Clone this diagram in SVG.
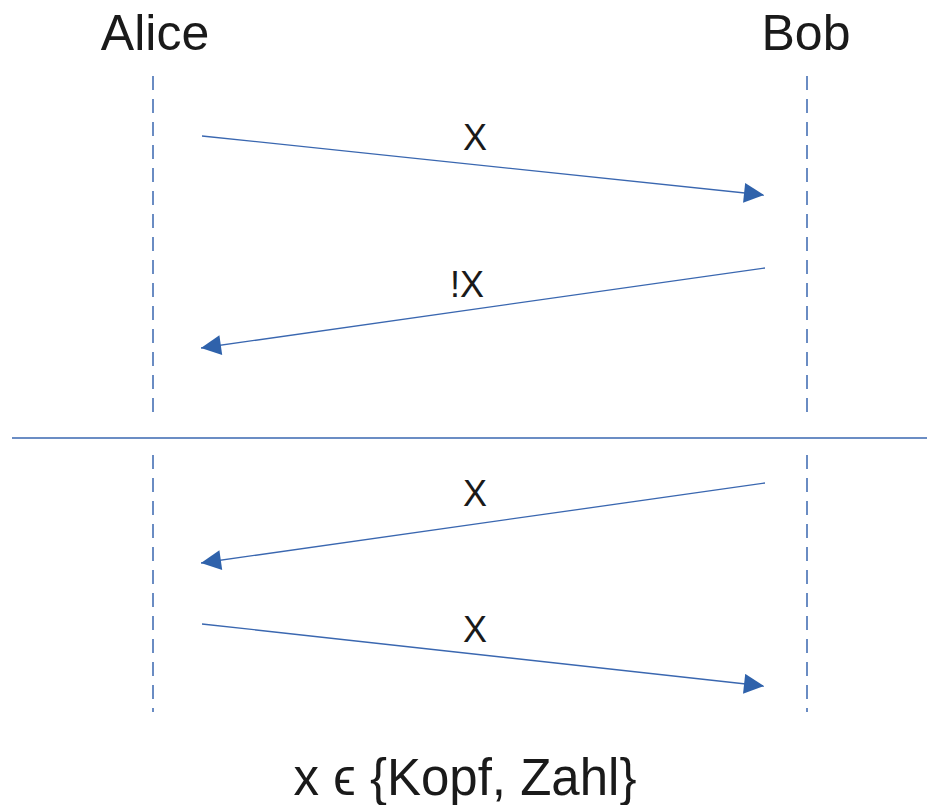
<svg xmlns="http://www.w3.org/2000/svg" width="927" height="805" viewBox="0 0 927 805">
<defs>
<style>
.t{font-family:"Liberation Sans",Arial,sans-serif;fill:#1a1a1a}
.life{stroke:#3a67b0;stroke-width:1.5;stroke-dasharray:14,9;fill:none}
.msg{stroke:#3a67b0;stroke-width:1.3;fill:none;marker-end:url(#ah)}
</style>
<marker id="ah" viewBox="0 0 10 10" refX="10" refY="5" markerUnits="userSpaceOnUse" markerWidth="22" markerHeight="20" orient="auto">
<path d="M0,0 L10,5 L0,10 z" fill="#2f62ab"/>
</marker>
</defs>
<rect width="927" height="805" fill="#fff"/>
<g id="alice">
<text class="t" x="155" y="50" font-size="50" text-anchor="middle">Alice</text>
<line class="life" x1="153" y1="76" x2="153" y2="418"/>
<line class="life" x1="153" y1="455" x2="153" y2="712"/>
</g>
<g id="bob">
<text class="t" x="806" y="50" font-size="50" text-anchor="middle">Bob</text>
<line class="life" x1="807" y1="76" x2="807" y2="418"/>
<line class="life" x1="807" y1="455" x2="807" y2="712"/>
</g>
<g id="connectors">
<line x1="12" y1="438" x2="927" y2="438" stroke="#3a67b0" stroke-width="1.5"/>
<line class="msg" x1="202" y1="136" x2="764" y2="195"/>
<line class="msg" x1="765" y1="268" x2="201" y2="348"/>
<line class="msg" x1="765" y1="483" x2="201" y2="563"/>
<line class="msg" x1="202" y1="624" x2="764" y2="686"/>
</g>
<g id="labels">
<text class="t" x="475" y="150" font-size="36" text-anchor="middle">X</text>
<text class="t" x="467" y="297" font-size="36" text-anchor="middle">!X</text>
<text class="t" x="475" y="506" font-size="36" text-anchor="middle">X</text>
<text class="t" x="475" y="642" font-size="36" text-anchor="middle">X</text>
<text class="t" x="465" y="795" font-size="51" text-anchor="middle">x ϵ {Kopf, Zahl}</text>
</g>
</svg>
